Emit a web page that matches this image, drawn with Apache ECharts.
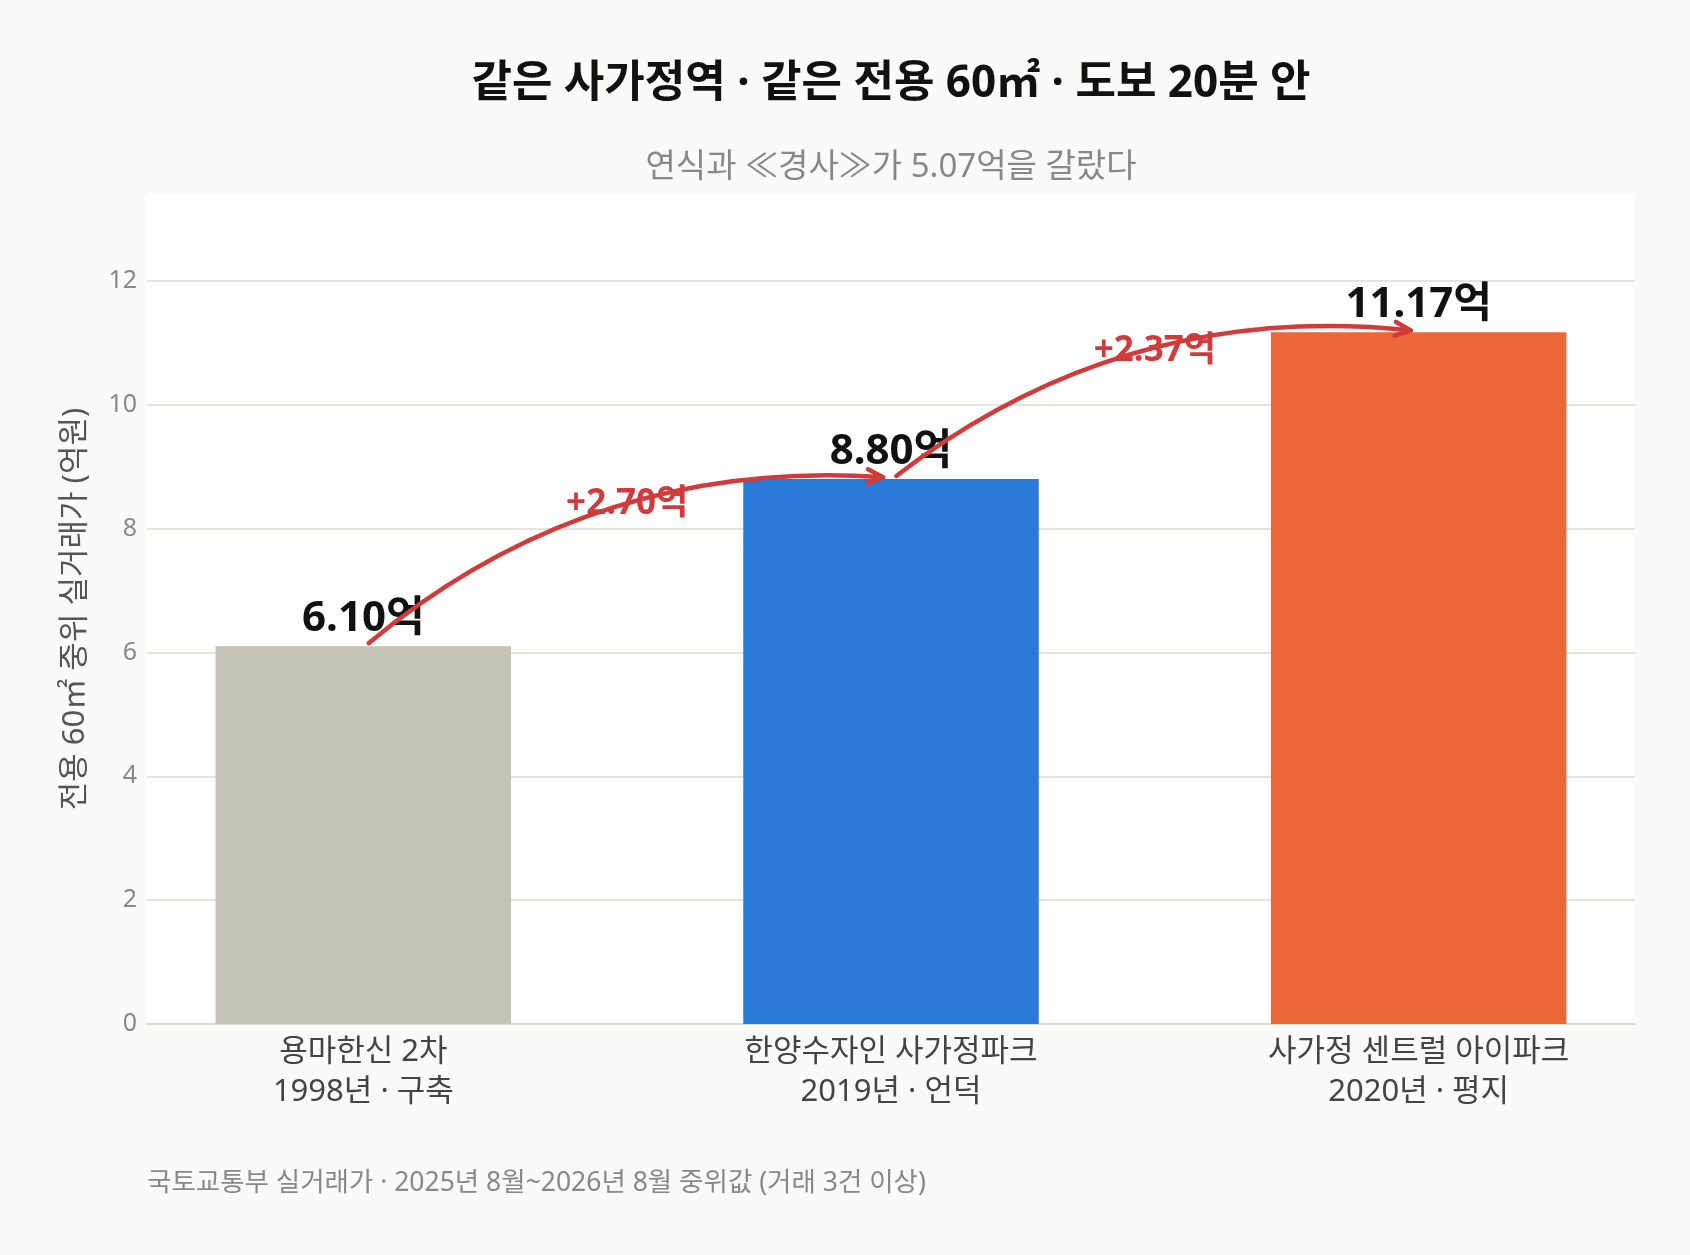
<!DOCTYPE html>
<html>
<head>
<meta charset="utf-8">
<script src="https://cdn.jsdelivr.net/npm/echarts@6/dist/echarts.min.js"></script>
<style>
html,body{margin:0;padding:0;background:#fafaf8;}
#chart{width:1690px;height:1255px;}
</style>
</head>
<body>
<div id="chart"></div>
<script>
// ---- data ----
var categories = ['용마한신 2차\n1998년 · 구축', '한양수자인 사가정파크\n2019년 · 언덕', '사가정 센트럴 아이파크\n2020년 · 평지'];
var prices = [6.10, 8.80, 11.17];
var barColors = ['#c2c2b6', '#2979d6', '#eb6836'];
var diffLabels = ['+2.70억', '+2.37억'];
var diffLabelY = [8.40, 10.87];
var yTicks = [0, 2, 4, 6, 8, 10, 12];
var titleText = '같은 사가정역 · 같은 전용 60㎡ · 도보 20분 안';
var subtitleText = '연식과 ≪경사≫가 5.07억을 갈랐다';
var footerText = '국토교통부 실거래가 · 2025년 8월~2026년 8월 중위값 (거래 3건 이상)';
var yName = '전용 60㎡ 중위 실거래가 (억원)';

var FONT = '"Noto Sans", "Noto Sans CJK KR", sans-serif';
var RED = '#d13b3b';

var barData = prices.map(function (v, i) {
  return { value: [i, v], itemStyle: { color: barColors[i] } };
});

// arrows between consecutive bars: [x1, y1, x2, y2, labelX, labelY, index]
var arrowData = [];
for (var i = 0; i < prices.length - 1; i++) {
  arrowData.push([i + 0.01, prices[i] + 0.05, i + 1 - 0.015, prices[i + 1] + 0.03, i + 0.5, diffLabelY[i], i]);
}

var chart = echarts.init(document.getElementById('chart'));
chart.setOption({
  backgroundColor: '#fafaf8',
  animation: false,
  textStyle: { fontFamily: FONT },
  grid: {
    left: 147, right: 55, top: 194, bottom: 231,
    show: true, backgroundColor: '#ffffff', borderWidth: 0
  },
  xAxis: {
    type: 'value',
    min: -0.41, max: 2.41,
    splitLine: { show: false },
    axisTick: { show: false, customValues: [0, 1, 2] },
    axisLine: { show: true, lineStyle: { color: '#dcdcd4', width: 2 } },
    axisLabel: {
      customValues: [0, 1, 2],
      formatter: function (v) { return categories[Math.round(v)] || ''; },
      color: '#444', fontSize: 31, lineHeight: 40, margin: 8, fontFamily: FONT
    }
  },
  yAxis: {
    type: 'value',
    min: 0, max: 13.404, interval: 2,
    name: yName,
    nameLocation: 'middle',
    nameGap: 56,
    nameTextStyle: { color: '#555', fontSize: 31, fontFamily: FONT },
    axisLine: { show: false },
    axisTick: { show: false, customValues: yTicks },
    splitLine: { lineStyle: { color: '#e4e4dd', width: 2 } },
    axisLabel: {
      customValues: yTicks,
      color: '#888', fontSize: 25, margin: 10, fontFamily: FONT
    }
  },
  series: [
    {
      type: 'bar',
      data: barData,
      barWidth: '56%',
      label: {
        show: true, position: 'top', distance: 6,
        formatter: function (p) { return p.value[1].toFixed(2) + '억'; },
        color: '#111', fontSize: 42, fontWeight: 'bold', fontFamily: FONT
      },
      z: 2
    },
    {
      type: 'custom',
      data: arrowData,
      z: 5,
      renderItem: function (params, api) {
        var p1 = api.coord([api.value(0), api.value(1)]);
        var p2 = api.coord([api.value(2), api.value(3)]);
        var lp = api.coord([api.value(4), api.value(5)]);
        var idx = api.value(6);
        var c = 0.2;
        var cpx = (p1[0] + p2[0]) / 2 - (p1[1] - p2[1]) * c;
        var cpy = (p1[1] + p2[1]) / 2 - (p2[0] - p1[0]) * c;
        var dx = p2[0] - cpx, dy = p2[1] - cpy;
        var len = Math.sqrt(dx * dx + dy * dy);
        var ux = dx / len, uy = dy / len;
        var L = 17, ang = 0.42;
        function rot(x, y, a) { return [x * Math.cos(a) - y * Math.sin(a), x * Math.sin(a) + y * Math.cos(a)]; }
        var a1 = rot(-ux, -uy, ang), a2 = rot(-ux, -uy, -ang);
        return {
          type: 'group',
          children: [
            {
              type: 'bezierCurve',
              shape: { x1: p1[0], y1: p1[1], x2: p2[0], y2: p2[1], cpx1: cpx, cpy1: cpy },
              style: { stroke: RED, lineWidth: 4.5, fill: null, lineCap: 'round' }
            },
            {
              type: 'polyline',
              shape: { points: [[p2[0] + a1[0] * L, p2[1] + a1[1] * L], [p2[0], p2[1]], [p2[0] + a2[0] * L, p2[1] + a2[1] * L]] },
              style: { stroke: RED, lineWidth: 4.5, fill: null, lineCap: 'round', lineJoin: 'round' }
            },
            {
              type: 'text',
              x: lp[0], y: lp[1],
              style: {
                text: diffLabels[idx], align: 'center', verticalAlign: 'middle',
                fill: RED, fontSize: 35, fontWeight: 'bold', fontFamily: FONT
              }
            }
          ]
        };
      }
    }
  ],
  graphic: [
    {
      type: 'text', x: 891, y: 84,
      style: { text: titleText, align: 'center', verticalAlign: 'middle', fill: '#111', fontSize: 44, fontWeight: 'bold', fontFamily: FONT }
    },
    {
      type: 'text', x: 891, y: 168,
      style: { text: subtitleText, align: 'center', verticalAlign: 'middle', fill: '#888', fontSize: 33, fontFamily: FONT }
    },
    {
      type: 'text', x: 147, y: 1183,
      style: { text: footerText, align: 'left', verticalAlign: 'middle', fill: '#888', fontSize: 26.5, fontFamily: FONT }
    }
  ]
});
</script>
</body>
</html>
